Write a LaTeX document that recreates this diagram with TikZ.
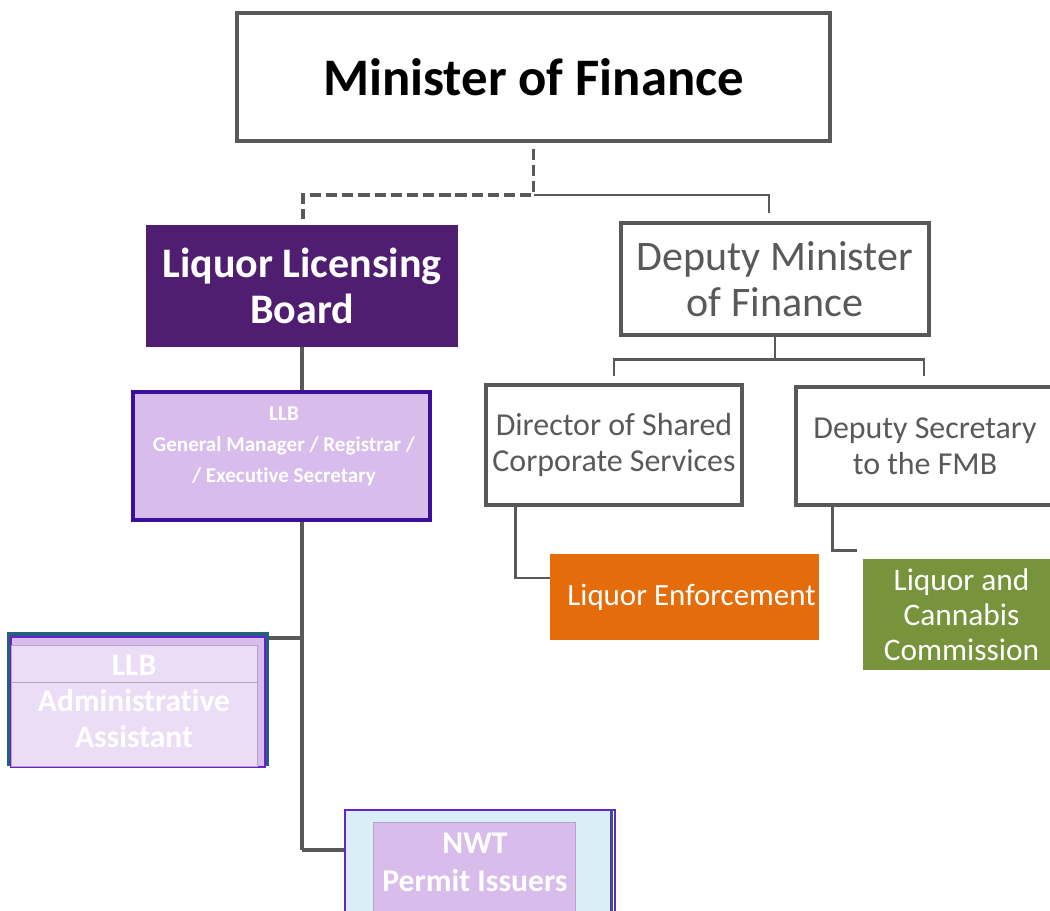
\documentclass[tikz,border=0pt]{standalone}
\usepackage{fontspec}
\setmainfont{Carlito}[Ligatures=NoCommon]
\usetikzlibrary{calc}
\definecolor{linegray}{HTML}{595959}
\definecolor{llbpurple}{HTML}{501E70}
\definecolor{indigo}{HTML}{3B0F9C}
\definecolor{lilac}{HTML}{D8BCEC}
\definecolor{palelilac}{HTML}{EBDDF5}
\definecolor{lilacline}{HTML}{B7A3C6}
\definecolor{teal}{HTML}{22607C}
\definecolor{violet}{HTML}{6A1FD0}
\definecolor{paleblue}{HTML}{DAEEF8}
\definecolor{orange}{HTML}{E46C0A}
\definecolor{olive}{HTML}{77933C}
\begin{document}
\begin{tikzpicture}
    [ x=0.025cm, y=-0.025cm
    , every node/.style={inner sep=0pt, align=center, shape=rectangle}
    , box/.style={draw=linegray, line width=2.3pt, text=linegray}
    , filled/.style={text=white}
    , link/.style={draw=linegray, line width=1.9pt}
    , bigfont/.style={font=\fontsize{37.5}{41}\selectfont\bfseries}
    , midfont/.style={font=\fontsize{29.9}{32.4}\selectfont}
    , boldmidfont/.style={font=\fontsize{29.9}{32.4}\selectfont\bfseries}
    , smallfont/.style={font=\fontsize{22.7}{25.6}\selectfont}
    , tinyfont/.style={font=\fontsize{15}{22}\selectfont\bfseries}
    ]
    \useasboundingbox (0,0) rectangle (1050,911);
    \clip (0,0) rectangle (1050,911);

    % top of the chart
    \node [box, line width=2.9pt, text=black, bigfont,
           minimum width=14.83cm, minimum height=3.2cm] (minister) at (533.5,77) {Minister of Finance};
    \node [filled, fill=llbpurple, boldmidfont,
           minimum width=7.8cm, minimum height=3.05cm] (llb) at (302,286) {Liquor Licensing\\Board};
    \node [box, midfont, minimum width=7.7cm, minimum height=2.8cm] (dmin) at (775,279) {Deputy Minister\\of Finance};

    % under the deputy minister
    \node [box, smallfont, minimum width=6.4cm, minimum height=3cm] (dscs) at (614,445) {Director of Shared\\Corporate Services};
    \node [box, smallfont, minimum width=6.45cm, minimum height=2.95cm] (dsec) at (925,446) {Deputy Secretary\\to the FMB};
    \node [filled, fill=orange, font=\fontsize{22}{25}\selectfont,
           minimum width=6.725cm, minimum height=2.15cm] (enf) at (684.5,597) {\hspace{10pt}Liquor Enforcement};
    \node [filled, fill=olive, font=\fontsize{22.3}{24.9}\selectfont,
           minimum width=4.925cm, minimum height=2.775cm] (lcc) at (961.5,614.5) {Liquor and\\Cannabis\\Commission};

    % under the board
    \node [draw=indigo, line width=2.8pt, fill=lilac,
           minimum width=7.425cm, minimum height=3.2cm] (gm) at (281.5,456) {};
    \node [filled, tinyfont] (gmtext) at (284,446) {LLB\\General Manager / Registrar /\\/ Executive Secretary};

    \node [draw=teal, line width=2.4pt, minimum width=6.45cm, minimum height=3.25cm] (admin) at (138,699) {};
    \node [draw=violet, line width=1.4pt, fill=lilac,
           minimum width=6.35cm, minimum height=3.25cm] (adminback) at (138,702) {};
    \node [draw=lilacline, line width=0.7pt, fill=palelilac,
           minimum width=6.125cm, minimum height=0.925cm] (admintop) at (134.5,663.5) {};
    \node [draw=lilacline, line width=0.7pt, fill=palelilac,
           minimum width=6.125cm, minimum height=2.1cm] (adminbottom) at (134.5,724) {};
    \node [filled, font=\fontsize{22.4}{25.6}\selectfont\bfseries] (admintext) at (134,701)
          {LLB\\Administrative\\Assistant};

    \node [draw=violet, line width=0.8pt, minimum width=6.65cm, minimum height=3cm] (nwtback) at (482,870) {};
    \node [draw=violet, line width=2pt, fill=paleblue,
           minimum width=6.65cm, minimum height=3cm] (nwt) at (478,870) {};
    \draw [teal, line width=1.4pt] (nwt.north east) -- (nwt.south east);
    \node [draw=lilacline, line width=0.7pt, fill=lilac,
           minimum width=5.025cm, minimum height=2.825cm] (nwtinner) at (474.5,878.5) {};
    \node [filled, font=\fontsize{22.5}{27}\selectfont\bfseries] (nwttext) at (475,862) {NWT\\Permit Issuers};

    % connectors
    \draw [link, line width=2.8pt, dash pattern=on 8pt off 3.5pt, shorten <=4pt]
          (minister.south) -- ++(0,52) coordinate (topj) -| ($(llb.north)+(1,-6)$);
    \draw [link] (topj) -| ($(dmin.north)+(-6,-8)$);
    \draw [link] (dmin.south) -- ++(0,23) coordinate (dminj);
    \draw [link] (dminj) -| ($(dscs.north)+(0,-7)$);
    \draw [link] (dminj) -| ($(dsec.north)+(-1,-9)$);
    \draw [link] ($(dscs.south west)+(31,0)$) |- ($(enf.west)+(0,-19)$);
    \draw [link] ($(dsec.south west)+(38,0)$) |- ($(lcc.north west)+(-6,-8)$);
    \draw [link, line width=2.3pt] (llb.south) -- (llb.south |- gm.north);
    \draw [link, line width=3.5pt] (llb.south |- gm.south) -- (302,638) coordinate (adminj);
    \draw [link, line width=2.3pt] (adminj) -- (302,850) coordinate (nwtj);
    \draw [link, line width=2.3pt] (adminj) -- (adminj -| admin.east);
    \draw [link, line width=2.3pt] (nwtj) -- (nwtj -| nwt.west);
\end{tikzpicture}
\end{document}
